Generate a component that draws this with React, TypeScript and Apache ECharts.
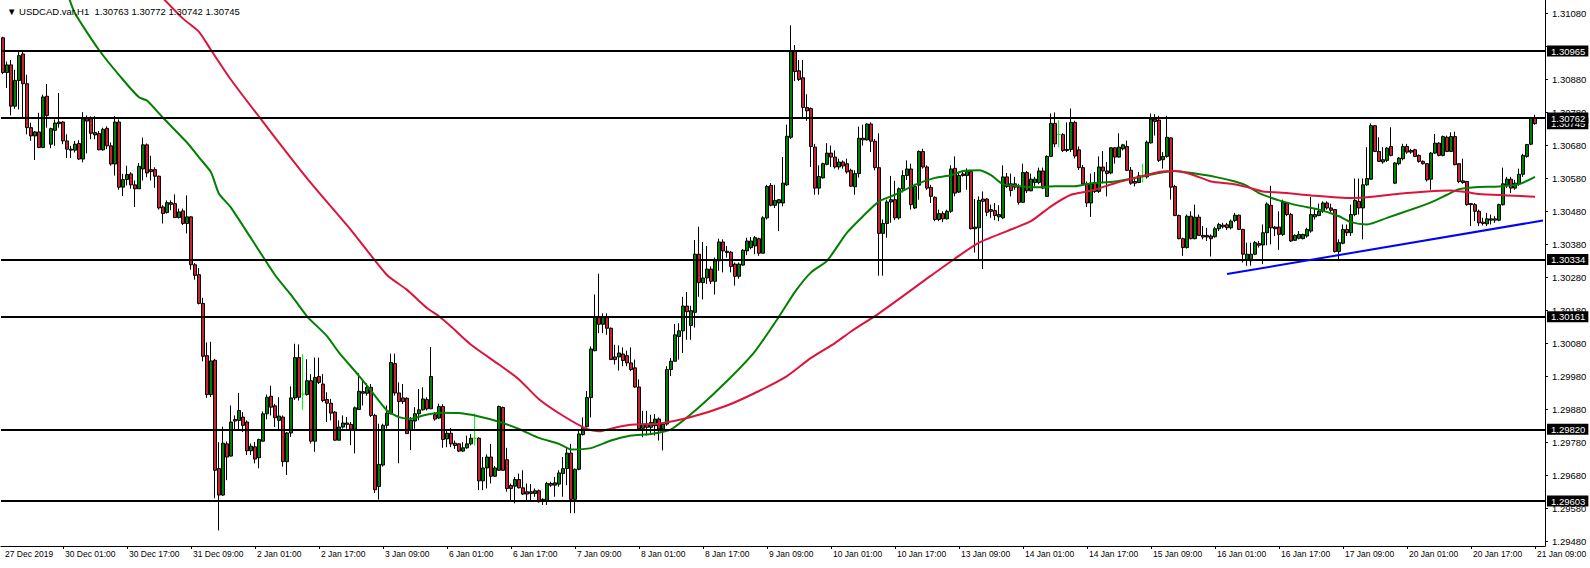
import React, { useEffect, useRef } from "react";
import * as echarts from "echarts";

// [open, high, low, close] for each H1 bar
const OHLC: number[][] = [
[1.31005,1.31008,1.30895,1.30900],[1.30900,1.30933,1.30853,1.30923],[1.30923,1.30938,1.30770,1.30798],[1.30798,1.30908,1.30790,1.30876],
[1.30876,1.30963,1.30788,1.30951],[1.30956,1.30963,1.30763,1.30866],[1.30866,1.30893,1.30713,1.30733],[1.30733,1.30748,1.30693,1.30708],
[1.30708,1.30723,1.30635,1.30720],[1.30720,1.30778,1.30671,1.30673],[1.30673,1.30833,1.30671,1.30826],[1.30828,1.30865,1.30733,1.30770],
[1.30683,1.30733,1.30671,1.30730],[1.30725,1.30758,1.30678,1.30747],[1.30745,1.30838,1.30733,1.30750],[1.30750,1.30753,1.30683,1.30693],
[1.30693,1.30713,1.30641,1.30668],[1.30668,1.30678,1.30641,1.30665],[1.30665,1.30693,1.30658,1.30683],[1.30685,1.30695,1.30635,1.30638],
[1.30638,1.30780,1.30628,1.30760],[1.30760,1.30770,1.30655,1.30753],[1.30760,1.30767,1.30698,1.30716],[1.30711,1.30768,1.30698,1.30718],
[1.30715,1.30723,1.30665,1.30666],[1.30666,1.30733,1.30663,1.30728],[1.30731,1.30737,1.30668,1.30678],[1.30678,1.30688,1.30618,1.30623],
[1.30623,1.30768,1.30588,1.30750],[1.30750,1.30758,1.30545,1.30553],[1.30553,1.30593,1.30526,1.30576],[1.30576,1.30618,1.30558,1.30591],
[1.30593,1.30598,1.30548,1.30560],[1.30560,1.30573,1.30493,1.30548],[1.30548,1.30626,1.30548,1.30616],[1.30608,1.30703,1.30573,1.30681],
[1.30681,1.30685,1.30583,1.30596],[1.30606,1.30648,1.30573,1.30600],[1.30606,1.30613,1.30551,1.30586],[1.30586,1.30588,1.30485,1.30490],
[1.30493,1.30498,1.30443,1.30473],[1.30476,1.30513,1.30473,1.30506],[1.30506,1.30513,1.30483,1.30501],[1.30503,1.30531,1.30461,1.30461],
[1.30461,1.30488,1.30458,1.30478],[1.30481,1.30488,1.30438,1.30443],[1.30443,1.30528,1.30413,1.30463],[1.30463,1.30465,1.30303,1.30318],
[1.30318,1.30323,1.30273,1.30286],[1.30288,1.30308,1.30198,1.30201],[1.30201,1.30218,1.30026,1.30041],[1.30043,1.30083,1.29915,1.29925],
[1.29925,1.30085,1.29918,1.30027],[1.30029,1.30033,1.29611,1.29696],[1.29701,1.29781,1.29514,1.29621],[1.29621,1.29828,1.29618,1.29778],
[1.29776,1.29783,1.29666,1.29736],[1.29739,1.29892,1.29737,1.29842],[1.29850,1.29862,1.29817,1.29845],[1.29847,1.29930,1.29817,1.29877],
[1.29857,1.29872,1.29812,1.29832],[1.29842,1.29847,1.29742,1.29755],[1.29755,1.29777,1.29742,1.29769],[1.29767,1.29782,1.29717,1.29730],
[1.29734,1.29792,1.29702,1.29789],[1.29784,1.29874,1.29782,1.29867],[1.29867,1.29925,1.29850,1.29917],[1.29920,1.29952,1.29862,1.29887],
[1.29891,1.29897,1.29827,1.29855],[1.29847,1.29917,1.29817,1.29860],[1.29857,1.29862,1.29707,1.29722],[1.29722,1.29812,1.29682,1.29809],
[1.29809,1.29950,1.29797,1.29915],[1.29915,1.30079,1.29909,1.30037],[1.30037,1.30077,1.29907,1.29917],[1.29927,1.30047,1.29879,1.29927],
[1.29925,1.30032,1.29922,1.29967],[1.29967,1.29987,1.29777,1.29784],[1.29784,1.30037,1.29752,1.29977],[1.29980,1.30037,1.29957,1.29962],
[1.29957,1.29987,1.29902,1.29907],[1.29910,1.29932,1.29842,1.29899],[1.29899,1.29912,1.29847,1.29869],[1.29872,1.29875,1.29787,1.29787],
[1.29787,1.29847,1.29787,1.29827],[1.29827,1.29862,1.29822,1.29839],[1.29839,1.29857,1.29822,1.29835],[1.29835,1.29842,1.29772,1.29820],
[1.29820,1.29889,1.29747,1.29885],[1.29880,1.29990,1.29879,1.29935],[1.29934,1.29967,1.29892,1.29929],[1.29929,1.29959,1.29922,1.29947],
[1.29947,1.29957,1.29857,1.29862],[1.29862,1.29867,1.29627,1.29637],[1.29647,1.29837,1.29607,1.29714],[1.29712,1.29837,1.29707,1.29832],
[1.29832,1.29892,1.29822,1.29869],[1.29867,1.30049,1.29865,1.30022],[1.30019,1.30049,1.29922,1.29930],[1.29930,1.29962,1.29717,1.29904],
[1.29915,1.29957,1.29897,1.29904],[1.29914,1.29917,1.29807,1.29807],[1.29817,1.29857,1.29757,1.29847],[1.29845,1.29887,1.29822,1.29867],
[1.29867,1.29942,1.29847,1.29879],[1.29879,1.29947,1.29877,1.29912],[1.29910,1.29917,1.29877,1.29882],[1.29882,1.30069,1.29882,1.29980],
[1.29864,1.29871,1.29846,1.29851],[1.29854,1.29898,1.29851,1.29889],[1.29889,1.29896,1.29764,1.29789],[1.29791,1.29816,1.29766,1.29808],
[1.29808,1.29824,1.29766,1.29776],[1.29778,1.29786,1.29761,1.29771],[1.29776,1.29778,1.29751,1.29754],[1.29754,1.29781,1.29751,1.29764],
[1.29764,1.29801,1.29761,1.29776],[1.29776,1.29806,1.29771,1.29793],[1.29793,1.29868,1.29771,1.29793],[1.29793,1.29796,1.29636,1.29664],
[1.29664,1.29736,1.29636,1.29703],[1.29703,1.29744,1.29641,1.29736],[1.29736,1.29776,1.29656,1.29678],[1.29678,1.29709,1.29676,1.29703],
[1.29696,1.29892,1.29696,1.29889],[1.29886,1.29889,1.29694,1.29696],[1.29728,1.29764,1.29631,1.29641],[1.29650,1.29656,1.29604,1.29641],
[1.29648,1.29676,1.29596,1.29668],[1.29668,1.29686,1.29641,1.29643],[1.29643,1.29696,1.29621,1.29624],[1.29631,1.29656,1.29601,1.29624],
[1.29626,1.29654,1.29604,1.29631],[1.29626,1.29641,1.29616,1.29634],[1.29634,1.29638,1.29598,1.29601],[1.29603,1.29611,1.29591,1.29608],
[1.29603,1.29661,1.29591,1.29656],[1.29656,1.29661,1.29646,1.29651],[1.29651,1.29676,1.29616,1.29658],[1.29654,1.29696,1.29646,1.29688],
[1.29686,1.29736,1.29616,1.29701],[1.29701,1.29766,1.29651,1.29748],[1.29748,1.29776,1.29566,1.29608],[1.29608,1.29701,1.29566,1.29699],
[1.29699,1.29821,1.29696,1.29806],[1.29804,1.29856,1.29801,1.29826],[1.29828,1.29936,1.29826,1.29916],[1.29916,1.30071,1.29856,1.30063],
[1.30058,1.30228,1.30056,1.30158],[1.30158,1.30291,1.30111,1.30138],[1.30138,1.30171,1.30111,1.30158],[1.30161,1.30171,1.30106,1.30126],
[1.30126,1.30128,1.30031,1.30031],[1.30039,1.30076,1.30016,1.30031],[1.30039,1.30074,1.29998,1.30051],[1.30048,1.30068,1.30011,1.30028],
[1.30043,1.30058,1.30011,1.30021],[1.30021,1.30068,1.29996,1.30001],[1.30006,1.30031,1.29946,1.29948],[1.29948,1.29971,1.29816,1.29821],
[1.29823,1.29876,1.29796,1.29836],[1.29836,1.29876,1.29801,1.29826],[1.29826,1.29864,1.29806,1.29841],[1.29831,1.29866,1.29801,1.29851],
[1.29851,1.29856,1.29786,1.29821],[1.29821,1.29839,1.29756,1.29836],[1.29836,1.30011,1.29831,1.30001],[1.30001,1.30036,1.29981,1.30026],
[1.30026,1.30139,1.30026,1.30106],[1.30101,1.30141,1.30031,1.30118],[1.30118,1.30221,1.30051,1.30193],[1.30193,1.30236,1.30091,1.30176],
[1.30134,1.30194,1.30091,1.30179],[1.30174,1.30393,1.30128,1.30350],[1.30350,1.30433,1.30221,1.30264],[1.30264,1.30387,1.30213,1.30278],
[1.30278,1.30375,1.30260,1.30305],[1.30305,1.30313,1.30260,1.30268],[1.30268,1.30340,1.30228,1.30330],[1.30330,1.30397,1.30300,1.30387],
[1.30387,1.30395,1.30295,1.30360],[1.30359,1.30375,1.30340,1.30355],[1.30356,1.30360,1.30295,1.30313],[1.30320,1.30325,1.30255,1.30283],
[1.30283,1.30325,1.30276,1.30320],[1.30317,1.30365,1.30315,1.30362],[1.30360,1.30400,1.30347,1.30390],[1.30370,1.30402,1.30365,1.30390],
[1.30375,1.30405,1.30350,1.30400],[1.30397,1.30400,1.30345,1.30353],[1.30353,1.30465,1.30353,1.30460],[1.30460,1.30560,1.30455,1.30555],
[1.30558,1.30565,1.30495,1.30498],[1.30498,1.30560,1.30490,1.30513],[1.30505,1.30517,1.30420,1.30515],[1.30505,1.30644,1.30495,1.30565],
[1.30560,1.30742,1.30557,1.30707],[1.30704,1.31043,1.30699,1.30965],[1.30965,1.30983,1.30874,1.30903],[1.30905,1.30938,1.30874,1.30879],
[1.30884,1.30938,1.30759,1.30794],[1.30794,1.30834,1.30754,1.30784],[1.30791,1.30794,1.30614,1.30676],[1.30674,1.30684,1.30530,1.30550],
[1.30550,1.30619,1.30530,1.30585],[1.30581,1.30627,1.30579,1.30624],[1.30622,1.30686,1.30619,1.30656],[1.30656,1.30679,1.30614,1.30644],
[1.30644,1.30664,1.30609,1.30614],[1.30614,1.30639,1.30606,1.30629],[1.30629,1.30634,1.30609,1.30617],[1.30624,1.30639,1.30594,1.30599],
[1.30604,1.30609,1.30554,1.30556],[1.30554,1.30604,1.30530,1.30594],[1.30594,1.30736,1.30582,1.30701],[1.30701,1.30742,1.30679,1.30696],
[1.30696,1.30746,1.30694,1.30744],[1.30744,1.30749,1.30659,1.30692],[1.30692,1.30699,1.30604,1.30612],[1.30612,1.30716,1.30285,1.30413],
[1.30413,1.30455,1.30285,1.30443],[1.30443,1.30515,1.30400,1.30508],[1.30508,1.30587,1.30445,1.30515],[1.30515,1.30572,1.30453,1.30460],
[1.30460,1.30552,1.30455,1.30548],[1.30548,1.30604,1.30537,1.30588],[1.30588,1.30634,1.30575,1.30608],[1.30608,1.30624,1.30485,1.30500],
[1.30490,1.30563,1.30487,1.30555],[1.30559,1.30664,1.30515,1.30661],[1.30661,1.30669,1.30609,1.30614],[1.30614,1.30619,1.30545,1.30550],
[1.30552,1.30560,1.30505,1.30525],[1.30522,1.30525,1.30450,1.30455],[1.30455,1.30485,1.30450,1.30473],[1.30473,1.30480,1.30447,1.30457],
[1.30457,1.30485,1.30455,1.30480],[1.30480,1.30619,1.30475,1.30608],[1.30610,1.30646,1.30525,1.30535],[1.30538,1.30600,1.30535,1.30588],
[1.30593,1.30600,1.30585,1.30588],[1.30588,1.30610,1.30545,1.30600],[1.30600,1.30605,1.30425,1.30427],[1.30427,1.30517,1.30355,1.30432],
[1.30430,1.30525,1.30335,1.30513],[1.30517,1.30540,1.30305,1.30510],[1.30517,1.30520,1.30465,1.30477],[1.30485,1.30500,1.30460,1.30480],
[1.30482,1.30505,1.30453,1.30467],[1.30463,1.30498,1.30450,1.30470],[1.30460,1.30619,1.30457,1.30584],[1.30584,1.30596,1.30550,1.30555],
[1.30563,1.30594,1.30525,1.30543],[1.30563,1.30584,1.30545,1.30553],[1.30553,1.30563,1.30500,1.30507],[1.30507,1.30624,1.30505,1.30597],
[1.30597,1.30602,1.30535,1.30542],[1.30542,1.30594,1.30540,1.30577],[1.30567,1.30584,1.30555,1.30577],[1.30567,1.30612,1.30562,1.30602],
[1.30602,1.30612,1.30547,1.30550],[1.30525,1.30649,1.30525,1.30646],[1.30646,1.30776,1.30644,1.30746],[1.30746,1.30779,1.30674,1.30684],
[1.30712,1.30756,1.30674,1.30712],[1.30712,1.30716,1.30659,1.30664],[1.30664,1.30749,1.30659,1.30667],[1.30667,1.30791,1.30659,1.30749],
[1.30749,1.30754,1.30640,1.30647],[1.30666,1.30676,1.30605,1.30612],[1.30612,1.30620,1.30558,1.30563],[1.30563,1.30570,1.30493,1.30505],
[1.30505,1.30594,1.30463,1.30563],[1.30567,1.30599,1.30535,1.30540],[1.30540,1.30646,1.30535,1.30614],[1.30614,1.30662,1.30565,1.30602],
[1.30602,1.30629,1.30525,1.30594],[1.30596,1.30674,1.30592,1.30672],[1.30672,1.30674,1.30624,1.30644],[1.30644,1.30716,1.30642,1.30674],
[1.30669,1.30684,1.30664,1.30681],[1.30676,1.30694,1.30602,1.30604],[1.30604,1.30614,1.30560,1.30565],[1.30570,1.30580,1.30555,1.30565],
[1.30567,1.30599,1.30565,1.30587],[1.30584,1.30624,1.30567,1.30584],[1.30584,1.30694,1.30579,1.30689],[1.30687,1.30776,1.30685,1.30759],
[1.30759,1.30774,1.30709,1.30752],[1.30756,1.30769,1.30629,1.30634],[1.30636,1.30659,1.30609,1.30646],[1.30646,1.30769,1.30642,1.30704],
[1.30702,1.30704,1.30515,1.30553],[1.30555,1.30560,1.30465,1.30467],[1.30467,1.30470,1.30395,1.30397],[1.30397,1.30400,1.30345,1.30370],
[1.30370,1.30470,1.30367,1.30465],[1.30465,1.30480,1.30395,1.30397],[1.30397,1.30500,1.30395,1.30462],[1.30462,1.30470,1.30405,1.30407],
[1.30407,1.30435,1.30395,1.30402],[1.30402,1.30430,1.30390,1.30407],[1.30405,1.30410,1.30343,1.30397],[1.30403,1.30433,1.30400,1.30427],
[1.30427,1.30445,1.30420,1.30440],[1.30433,1.30445,1.30428,1.30438],[1.30439,1.30445,1.30423,1.30430],[1.30430,1.30455,1.30425,1.30450],
[1.30452,1.30475,1.30447,1.30468],[1.30468,1.30470,1.30423,1.30425],[1.30425,1.30427,1.30325,1.30350],[1.30333,1.30385,1.30315,1.30350],
[1.30330,1.30385,1.30315,1.30350],[1.30350,1.30390,1.30347,1.30385],[1.30382,1.30390,1.30370,1.30377],[1.30378,1.30440,1.30320,1.30415],
[1.30415,1.30507,1.30377,1.30502],[1.30498,1.30557,1.30380,1.30430],[1.30432,1.30435,1.30405,1.30427],[1.30432,1.30480,1.30363,1.30410],
[1.30410,1.30515,1.30405,1.30507],[1.30505,1.30507,1.30465,1.30470],[1.30470,1.30475,1.30387,1.30390],[1.30392,1.30410,1.30390,1.30407],
[1.30398,1.30420,1.30395,1.30410],[1.30397,1.30412,1.30395,1.30410],[1.30405,1.30430,1.30400,1.30425],[1.30420,1.30523,1.30415,1.30470],
[1.30463,1.30490,1.30455,1.30470],[1.30467,1.30503,1.30465,1.30480],[1.30480,1.30510,1.30475,1.30505],[1.30505,1.30510,1.30485,1.30490],
[1.30490,1.30503,1.30477,1.30483],[1.30485,1.30487,1.30355,1.30358],[1.30358,1.30395,1.30335,1.30385],[1.30383,1.30440,1.30380,1.30425],
[1.30425,1.30440,1.30405,1.30415],[1.30415,1.30500,1.30405,1.30470],[1.30470,1.30579,1.30465,1.30513],[1.30510,1.30579,1.30470,1.30490],
[1.30490,1.30579,1.30395,1.30560],[1.30560,1.30674,1.30557,1.30579],[1.30577,1.30746,1.30575,1.30739],[1.30739,1.30741,1.30659,1.30661],
[1.30661,1.30704,1.30629,1.30631],[1.30629,1.30674,1.30624,1.30636],[1.30634,1.30674,1.30629,1.30671],[1.30676,1.30734,1.30646,1.30649],
[1.30565,1.30629,1.30563,1.30626],[1.30624,1.30644,1.30619,1.30641],[1.30639,1.30684,1.30634,1.30676],[1.30676,1.30684,1.30654,1.30659],
[1.30664,1.30669,1.30654,1.30659],[1.30666,1.30669,1.30644,1.30646],[1.30649,1.30652,1.30627,1.30631],[1.30631,1.30634,1.30621,1.30624],
[1.30624,1.30626,1.30570,1.30575],[1.30577,1.30659,1.30545,1.30656],[1.30656,1.30714,1.30654,1.30686],[1.30686,1.30689,1.30646,1.30649],
[1.30649,1.30709,1.30646,1.30706],[1.30704,1.30709,1.30659,1.30661],[1.30661,1.30719,1.30659,1.30706],[1.30706,1.30721,1.30619,1.30621],
[1.30624,1.30626,1.30565,1.30570],[1.30572,1.30639,1.30563,1.30567],[1.30570,1.30572,1.30497,1.30500],[1.30503,1.30505,1.30435,1.30500],
[1.30500,1.30505,1.30450,1.30480],[1.30480,1.30485,1.30435,1.30445],[1.30447,1.30460,1.30437,1.30443],[1.30442,1.30475,1.30435,1.30457],
[1.30453,1.30470,1.30440,1.30457],[1.30457,1.30465,1.30445,1.30453],[1.30453,1.30503,1.30450,1.30500],[1.30500,1.30612,1.30497,1.30563],
[1.30560,1.30584,1.30550,1.30577],[1.30577,1.30584,1.30535,1.30550],[1.30550,1.30575,1.30545,1.30565],[1.30563,1.30609,1.30557,1.30592],
[1.30592,1.30654,1.30584,1.30649],[1.30646,1.30684,1.30642,1.30682],[1.30683,1.30765,1.30680,1.30763],[1.30763,1.30772,1.30742,1.30745],
];

// moving averages: [bar index, price]
const GREEN_MA: number[][] = [
[16,1.31143],[18,1.31079],[24,1.30968],[30,1.30878],[34,1.30825],[36,1.30815],[40,1.30763],[46,1.30688],[49,1.30643],[52,1.30598],
[54,1.30533],[57,1.30491],[68,1.30287],[72,1.30227],[76,1.30162],[81,1.30102],[84,1.30052],[89,1.29982],[92,1.29937],[96,1.29877],
[99,1.29857],[102,1.29852],[105,1.29862],[109,1.29870],[114,1.29869],[119,1.29859],[124,1.29843],[129,1.29821],[134,1.29794],[139,1.29776],
[142,1.29759],[147,1.29763],[152,1.29786],[157,1.29801],[162,1.29806],[167,1.29820],[174,1.29887],[181,1.29966],[188,1.30056],[194,1.30161],
[198,1.30236],[202,1.30295],[206,1.30330],[211,1.30415],[215,1.30465],[219,1.30510],[223,1.30530],[228,1.30560],[233,1.30581],[237,1.30589],
[240,1.30602],[244,1.30604],[247,1.30589],[250,1.30562],[254,1.30556],[259,1.30553],[263,1.30556],[268,1.30556],[272,1.30565],[278,1.30570],
[284,1.30584],[289,1.30596],[293,1.30602],[298,1.30594],[303,1.30584],[308,1.30570],[311,1.30557],[314,1.30535],[319,1.30513],[324,1.30497],
[329,1.30485],[334,1.30465],[337,1.30447],[341,1.30440],[346,1.30460],[352,1.30485],[357,1.30507],[361,1.30530],[364,1.30547],[368,1.30553],
[374,1.30555],[379,1.30562],[383,1.30584],
];
const RED_MA: number[][] = [
[38,1.31150],[45,1.31063],[49,1.31023],[52,1.30968],[57,1.30878],[67,1.30719],[77,1.30565],[87,1.30423],[96,1.30287],[101,1.30242],
[106,1.30187],[109,1.30162],[112,1.30131],[117,1.30076],[124,1.30016],[129,1.29971],[134,1.29911],[140,1.29861],[146,1.29821],[149,1.29814],
[154,1.29828],[157,1.29834],[164,1.29837],[172,1.29857],[181,1.29892],[189,1.29936],[196,1.29981],[202,1.30036],[208,1.30081],[212,1.30116],
[219,1.30171],[232,1.30285],[238,1.30337],[244,1.30385],[251,1.30420],[257,1.30450],[262,1.30495],[267,1.30530],[272,1.30542],[278,1.30565],
[284,1.30584],[289,1.30599],[293,1.30602],[297,1.30592],[302,1.30570],[307,1.30563],[311,1.30553],[315,1.30540],[321,1.30535],[327,1.30528],
[337,1.30520],[343,1.30525],[349,1.30533],[356,1.30540],[362,1.30543],[366,1.30538],[369,1.30532],[376,1.30528],[383,1.30524],
];

const LEVELS: number[] = [1.30965, 1.30762, 1.30334, 1.30161, 1.2982, 1.29603];
const TREND: number[][] = [[306, 1.3029], [385, 1.30452]];

// tick marks every 0.001; the 1.30980 label sits under the 1.30965 box and is not shown
const PRICE_TICKS: number[] = [1.2948, 1.2958, 1.2968, 1.2978, 1.2988, 1.2998, 1.3008, 1.3018, 1.3028, 1.3038, 1.3048, 1.3058, 1.3068, 1.3078, 1.3088, 1.3098, 1.3108];
const PRICE_LABELS: number[] = [1.2948, 1.2958, 1.2968, 1.2978, 1.2988, 1.2998, 1.3008, 1.3018, 1.3028, 1.3038, 1.3048, 1.3058, 1.3068, 1.3078, 1.3088, 1.3108];
const TIME_TICK_INDEX: number[] = [0, 15, 31, 47, 63, 79, 95, 111, 127, 143, 159, 175, 191, 207, 223, 239, 255, 271, 287, 303, 319, 335, 351, 367, 383];
const TIME_TICK_LABELS: string[] = ["27 Dec 2019", "30 Dec 01:00", "30 Dec 17:00", "31 Dec 09:00", "2 Jan 01:00", "2 Jan 17:00", "3 Jan 09:00", "6 Jan 01:00", "6 Jan 17:00", "7 Jan 09:00", "8 Jan 01:00", "8 Jan 17:00", "9 Jan 09:00", "10 Jan 01:00", "10 Jan 17:00", "13 Jan 09:00", "14 Jan 01:00", "14 Jan 17:00", "15 Jan 09:00", "16 Jan 01:00", "16 Jan 17:00", "17 Jan 09:00", "20 Jan 01:00", "20 Jan 17:00", "21 Jan 09:00"];

const SYMBOL = "USDCAD.var,H1";
const Y_MIN = 1.294668;
const Y_MAX = 1.311194;
const EXTRA_SLOTS = 2;

const FONT = "'Liberation Sans', Arial, sans-serif";

export default function App() {
  const ref = useRef<HTMLDivElement>(null);

  useEffect(() => {
    if (!ref.current) return;
    const chart = echarts.init(ref.current, undefined, { renderer: "svg" });

    const categories = Array.from({ length: OHLC.length + EXTRA_SLOTS }, (_, i) => String(i));
    const tickMap: Record<number, string> = {};
    TIME_TICK_INDEX.forEach((idx, k) => (tickMap[idx] = TIME_TICK_LABELS[k]));

    const candles = OHLC.map(([o, h, l, c]) => {
      const item: any = { value: [o, c, l, h] };
      if (o === c) {
        item.itemStyle = { color: "#00ff00", color0: "#00ff00", borderColor: "#00ff00", borderColor0: "#00ff00" };
      }
      return item;
    });
    const last = OHLC[OHLC.length - 1];
    const fmt = (v: number) => v.toFixed(5);

    const boxLabel = {
      show: true,
      position: "end",
      distance: 2,
      formatter: (p: any) => fmt(Number(p.value)),
      backgroundColor: "#000",
      color: "#fff",
      fontSize: 9.5,
      fontFamily: FONT,
      padding: [1, 3, 0, 4],
    };

    chart.setOption({
      animation: false,
      title: {
        text: "▼ " + SYMBOL + "  " + last.map(fmt).join(" "),
        left: 2,
        top: 1,
        textStyle: { fontSize: 9.5, fontWeight: "normal", color: "#000", fontFamily: FONT },
      },
      grid: { left: 1, right: 45, top: 0, bottom: 22, containLabel: false, outerBoundsMode: "none" },
      xAxis: {
        type: "category",
        data: categories,
        boundaryGap: true,
        axisLine: { show: true, lineStyle: { color: "#000", width: 1 } },
        axisTick: {
          show: true,
          alignWithLabel: true,
          length: 3,
          lineStyle: { color: "#000" },
          interval: (idx: number) => idx > 0 && tickMap[idx] !== undefined,
        },
        axisLabel: {
          show: true,
          interval: (idx: number) => tickMap[idx] !== undefined,
          formatter: (_v: string, idx: number) => tickMap[idx] || "",
          align: "left",
          margin: 3,
          padding: [0, 0, 0, 2],
          fontSize: 8.5,
          fontFamily: FONT,
          color: "#000",
        },
        splitLine: { show: false },
      },
      yAxis: {
        type: "value",
        position: "right",
        min: Y_MIN,
        max: Y_MAX,
        scale: true,
        axisLine: { show: true, lineStyle: { color: "#000", width: 1 } },
        axisTick: { show: true, length: 3, lineStyle: { color: "#000" }, customValues: PRICE_TICKS },
        axisLabel: {
          show: true,
          customValues: PRICE_LABELS,
          formatter: (v: number) => fmt(v),
          margin: 7,
          fontSize: 9.5,
          fontFamily: FONT,
          color: "#000",
        },
        splitLine: { show: false },
      },
      series: [
        {
          type: "candlestick",
          data: candles,
          barWidth: 3,
          itemStyle: {
            color: "#008000",
            color0: "#c8232c",
            borderColor: "#000",
            borderColor0: "#000",
            borderWidth: 1,
          },
        },
        {
          type: "line",
          data: GREEN_MA,
          showSymbol: false,
          smooth: 0.2,
          lineStyle: { color: "#008000", width: 2 },
          z: 3,
        },
        {
          type: "line",
          data: RED_MA,
          showSymbol: false,
          smooth: 0.2,
          lineStyle: { color: "#dc143c", width: 2 },
          z: 3,
          markLine: {
            silent: true,
            symbol: ["none", "none"],
            precision: 5,
            animation: false,
            lineStyle: { color: "#000", width: 2, type: "solid" },
            label: boxLabel,
            data: [
              { yAxis: last[3], lineStyle: { color: "transparent", width: 0 } },
              ...LEVELS.map((v) => ({ yAxis: v })),
              [
                { coord: TREND[0], lineStyle: { color: "#0000ff", width: 2, type: "solid" }, label: { show: false } },
                { coord: TREND[1] },
              ],
            ],
          },
        },
      ],
    });

    return () => chart.dispose();
  }, []);

  return (
    <div
      ref={ref}
      style={{ position: "fixed", left: 0, top: 0, width: 1590, height: 568, background: "#fff" }}
    />
  );
}
